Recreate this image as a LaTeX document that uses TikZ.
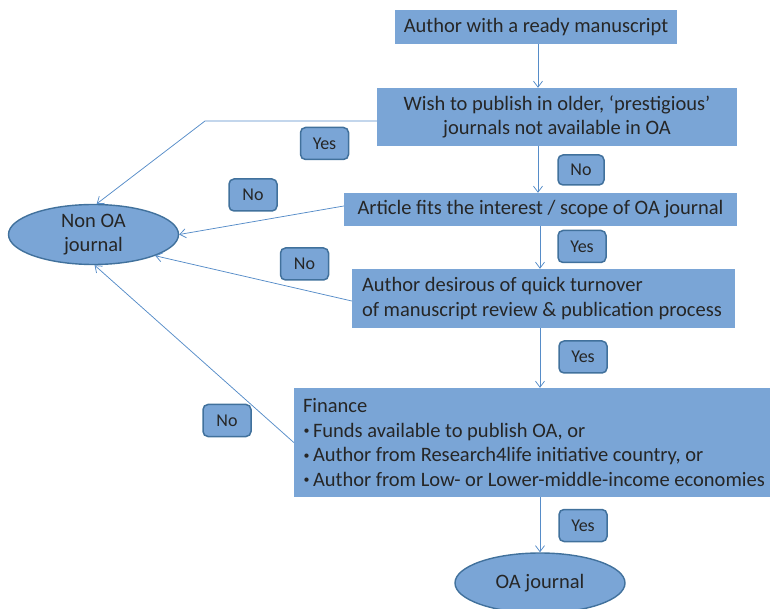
\documentclass[tikz,border=0pt]{standalone}
\usepackage{fontspec}
\setmainfont{Carlito}
\usetikzlibrary{arrows.meta,shapes.geometric}
\definecolor{boxfill}{RGB}{122,165,214}
\definecolor{edgeblue}{RGB}{65,113,156}
\definecolor{linkblue}{RGB}{86,140,200}
\definecolor{inktext}{RGB}{38,38,38}
% small list bullet followed by a fixed gap
\newcommand\listdot{\makebox[10pt][l]{\kern0.5pt\raisebox{2.6pt}{\fontsize{12}{12}\selectfont •}}}
\tikzset{
  stepbox/.style={fill=boxfill, draw=none, inner sep=0pt, text=inktext,
    font=\fontsize{20.5}{24.5}\selectfont},
  tagbox/.style={fill=boxfill, draw=edgeblue, line width=1.5pt, rounded corners=5pt,
    minimum width=48pt, minimum height=32pt, inner sep=0pt, text=inktext,
    font=\fontsize{18}{20}\selectfont},
  endnode/.style={ellipse, fill=boxfill, draw=edgeblue, line width=1.4pt, inner sep=0pt,
    text=inktext, align=center, font=\fontsize{20.5}{24.5}\selectfont},
  link/.style={draw=linkblue, line width=0.75pt,
    -{Straight Barb[length=6pt,width=9pt,line width=0.75pt]}},
}
\begin{document}
\begin{tikzpicture}[x=1pt,y=-1pt]
\useasboundingbox (0,0) rectangle (771,609);

% main chain of steps
\node[stepbox, minimum width=282pt, minimum height=34pt] (ready) at (536,27)
  {Author with a ready manuscript};
\node[stepbox, minimum width=360pt, minimum height=58pt, align=center] (wish) at (557,117)
  {Wish to publish in older, ‘prestigious’\\journals not available in OA};
\node[stepbox, minimum width=393pt, minimum height=33pt] (scope) at (540.5,209.5)
  {Article fits the interest / scope of OA journal};
\node[stepbox, minimum width=383pt, minimum height=59pt, text width=363pt, align=flush left,
  inner xsep=10pt] (quick) at (543.5,298.5)
  {\mbox{Author desirous of quick turnover}\\\mbox{of manuscript review \& publication process}};
\node[stepbox, minimum width=476pt, minimum height=109pt, text width=458pt, align=flush left,
  inner xsep=9pt] (finance) at (532,442.5)
  {\mbox{Finance}\\\mbox{\listdot Funds available to publish OA, or}\\\mbox{\listdot Author from Research4life initiative country, or}\\\mbox{\listdot Author from Low- or Lower-middle-income economies}};

% outcomes
\node[endnode, minimum width=170pt, minimum height=60pt] (nonoa) at (93.5,234.5) {Non OA\\journal};
\node[endnode, minimum width=170pt, minimum height=60pt] (oa) at (540,583) {OA journal};

% decision tags
\node[tagbox] (yes1) at (324.5,143.5) {Yes};
\node[tagbox, minimum width=46pt, minimum height=30pt] (no1) at (581,170) {No};
\node[tagbox] (no2) at (253,195) {No};
\node[tagbox] (yes2) at (582,246.5) {Yes};
\node[tagbox] (no3) at (304.5,264) {No};
\node[tagbox] (yes3) at (583,357) {Yes};
\node[tagbox] (no4) at (227,420.5) {No};
\node[tagbox] (yes4) at (583,525.5) {Yes};

% vertical spine
\coordinate (spineA) at (538,0);
\coordinate (spineB) at (540,0);
\draw[link] (ready.south -| spineA) -- (wish.north -| spineA);
\draw[link] (wish.south -| spineA) -- (scope.north -| spineA);
\draw[link] (scope.south -| spineB) -- (quick.north -| spineB);
\draw[link] (quick.south -| spineB) -- (finance.north -| spineB);
\draw[link] (finance.south -| spineB) -- (oa.north);

% branches to the non-OA outcome
\coordinate (bend) at (205,121);
\draw[link] (wish.west |- bend) -- (bend) -- (nonoa.84);
\draw[link] ([yshift=3.5pt]scope.west) -- (nonoa.0);
\draw[link] ([yshift=-2.5pt]quick.west) -- (nonoa.-19);
\draw[link] (finance.west) -- (nonoa.-88);
\end{tikzpicture}
\end{document}
